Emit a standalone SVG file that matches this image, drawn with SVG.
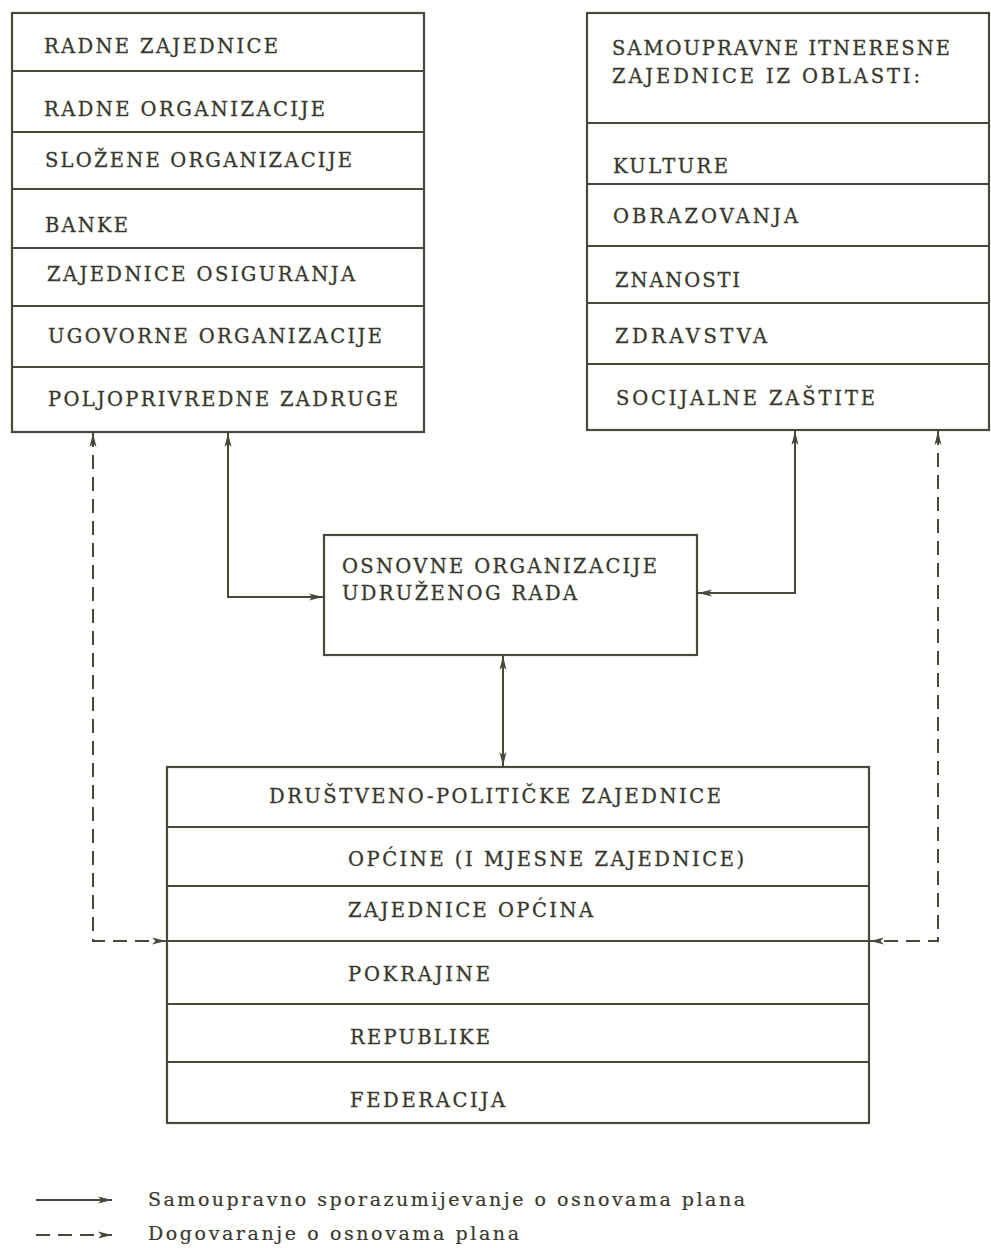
<svg xmlns="http://www.w3.org/2000/svg" width="991" height="1248" viewBox="0 0 991 1248">
<style>
.box{fill:#fff;stroke:#48483c;stroke-width:2.2}
.div{stroke:#48483c;stroke-width:2.2}
.t{font-family:"DejaVu Serif","Liberation Serif",serif;font-size:19.5px;fill:#38382c;stroke:#38382c;stroke-width:0.3}
.lg{font-family:"DejaVu Serif","Liberation Serif",serif;font-size:19px;fill:#38382c;stroke:#38382c;stroke-width:0.2}
.c{fill:none;stroke:#48483c;stroke-width:2}
.d{fill:none;stroke:#48483c;stroke-width:2;stroke-dasharray:14 8}
</style>
<defs>
<marker id="ah" viewBox="0 0 14 8" refX="14" refY="4" markerWidth="14" markerHeight="8" markerUnits="userSpaceOnUse" orient="auto-start-reverse">
<path d="M0,0.5 L14,4 L0,7.5 L3.5,4 Z" fill="#48483c"/>
</marker>
</defs>
<rect width="991" height="1248" fill="#fff"/>

<g id="left-box">
<rect class="box" x="12" y="13" width="412" height="419"/>
<line class="div" x1="12" y1="71" x2="424" y2="71"/>
<line class="div" x1="12" y1="132" x2="424" y2="132"/>
<line class="div" x1="12" y1="189" x2="424" y2="189"/>
<line class="div" x1="12" y1="248" x2="424" y2="248"/>
<line class="div" x1="12" y1="306" x2="424" y2="306"/>
<line class="div" x1="12" y1="367" x2="424" y2="367"/>
<text class="t" x="44" y="53" textLength="234" lengthAdjust="spacing">RADNE ZAJEDNICE</text>
<text class="t" x="44" y="116" textLength="281" lengthAdjust="spacing">RADNE ORGANIZACIJE</text>
<text class="t" x="45" y="167" textLength="307" lengthAdjust="spacing">SLOŽENE ORGANIZACIJE</text>
<text class="t" x="45" y="232" textLength="83" lengthAdjust="spacing">BANKE</text>
<text class="t" x="47" y="281" textLength="308" lengthAdjust="spacing">ZAJEDNICE OSIGURANJA</text>
<text class="t" x="48" y="343" textLength="334" lengthAdjust="spacing">UGOVORNE ORGANIZACIJE</text>
<text class="t" x="48" y="406" textLength="350" lengthAdjust="spacing">POLJOPRIVREDNE ZADRUGE</text>
</g>

<g id="right-box">
<rect class="box" x="587" y="13" width="402" height="417"/>
<line class="div" x1="587" y1="123" x2="989" y2="123"/>
<line class="div" x1="587" y1="184" x2="989" y2="184"/>
<line class="div" x1="587" y1="246" x2="989" y2="246"/>
<line class="div" x1="587" y1="303" x2="989" y2="303"/>
<line class="div" x1="587" y1="364" x2="989" y2="364"/>
<text class="t" x="612" y="55" textLength="338" lengthAdjust="spacing">SAMOUPRAVNE ITNERESNE</text>
<text class="t" x="612" y="83" textLength="308" lengthAdjust="spacing">ZAJEDNICE IZ OBLASTI:</text>
<text class="t" x="613" y="173" textLength="115" lengthAdjust="spacing">KULTURE</text>
<text class="t" x="613" y="223" textLength="185" lengthAdjust="spacing">OBRAZOVANJA</text>
<text class="t" x="615" y="287" textLength="125" lengthAdjust="spacing">ZNANOSTI</text>
<text class="t" x="615" y="343" textLength="152" lengthAdjust="spacing">ZDRAVSTVA</text>
<text class="t" x="616" y="405" textLength="259" lengthAdjust="spacing">SOCIJALNE ZAŠTITE</text>
</g>

<g id="oour-box">
<rect class="box" x="324" y="535" width="373" height="120"/>
<text class="t" x="342" y="573" textLength="315" lengthAdjust="spacing">OSNOVNE ORGANIZACIJE</text>
<text class="t" x="342" y="600" textLength="235" lengthAdjust="spacing">UDRUŽENOG RADA</text>
</g>

<g id="dpz-box">
<rect class="box" x="167" y="767" width="702" height="356"/>
<line class="div" x1="167" y1="827" x2="869" y2="827"/>
<line class="div" x1="167" y1="886" x2="869" y2="886"/>
<line class="div" x1="167" y1="941" x2="869" y2="941"/>
<line class="div" x1="167" y1="1004" x2="869" y2="1004"/>
<line class="div" x1="167" y1="1062" x2="869" y2="1062"/>
<text class="t" x="269" y="803" textLength="452" lengthAdjust="spacing">DRUŠTVENO-POLITIČKE ZAJEDNICE</text>
<text class="t" x="348" y="866" textLength="396" lengthAdjust="spacing">OPĆINE (I MJESNE ZAJEDNICE)</text>
<text class="t" x="348" y="917" textLength="245" lengthAdjust="spacing">ZAJEDNICE OPĆINA</text>
<text class="t" x="348" y="981" textLength="142" lengthAdjust="spacing">POKRAJINE</text>
<text class="t" x="350" y="1044" textLength="140" lengthAdjust="spacing">REPUBLIKE</text>
<text class="t" x="350" y="1107" textLength="155" lengthAdjust="spacing">FEDERACIJA</text>
</g>

<g id="connectors">
<path class="c" d="M228,433 V597 H323" marker-start="url(#ah)" marker-end="url(#ah)"/>
<path class="c" d="M795,431 V593 H698" marker-start="url(#ah)" marker-end="url(#ah)"/>
<path class="c" d="M503,656 V766" marker-start="url(#ah)" marker-end="url(#ah)"/>
<path class="d" d="M93,433 V941 H166" marker-start="url(#ah)" marker-end="url(#ah)"/>
<path class="d" d="M938,431 V941 H870" marker-start="url(#ah)" marker-end="url(#ah)"/>
</g>

<g id="legend">
<path class="c" d="M36,1200 H112" marker-end="url(#ah)"/>
<path class="d" d="M36,1235 H112" stroke-dasharray="9 5" marker-end="url(#ah)"/>
<text class="lg" x="148" y="1206" textLength="597" lengthAdjust="spacing">Samoupravno sporazumijevanje o osnovama plana</text>
<text class="lg" x="148" y="1240" textLength="371" lengthAdjust="spacing">Dogovaranje o osnovama plana</text>
</g>
</svg>
